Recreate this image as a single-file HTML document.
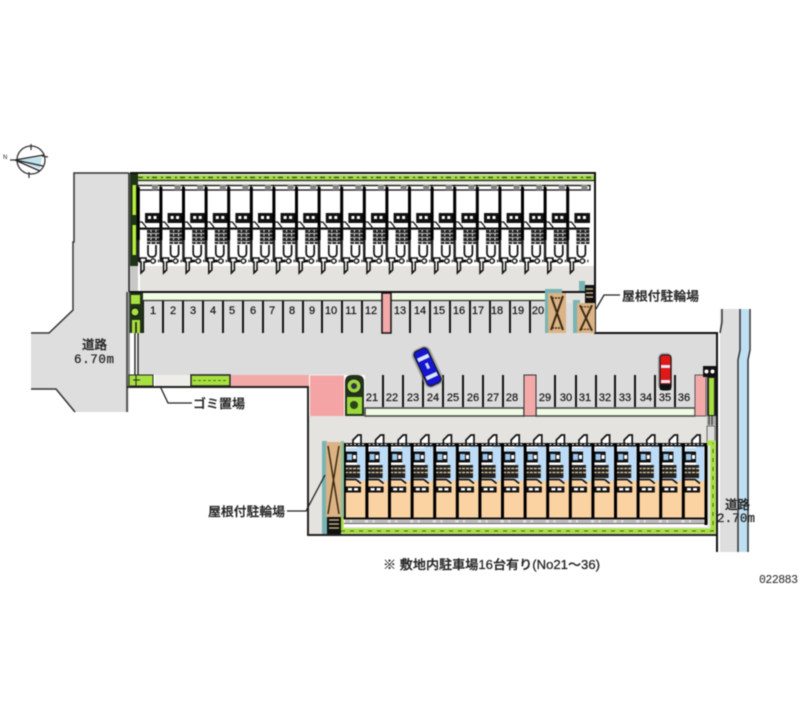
<!DOCTYPE html>
<html lang="ja"><head><meta charset="utf-8"><title>駐車場 配置図</title>
<style>
html,body{margin:0;padding:0;background:#fff}
svg{display:block;filter:blur(.4px)}
text{font-family:"Liberation Sans","Noto Sans CJK JP",sans-serif;fill:#222}
.n{font-family:"Liberation Sans","DejaVu Sans",sans-serif;font-size:11px;text-anchor:middle;fill:#111;stroke:#111;stroke-width:.2px}
.l{font-size:12.5px;font-weight:500;stroke:#222;stroke-width:.25px}
</style></head><body>
<svg width="800" height="727" viewBox="0 0 800 727" xmlns="http://www.w3.org/2000/svg">
<defs>
<g id="tu">
<rect x="0" y="190" width="22.6" height="71" fill="#fff"/>
<rect x="0" y="185.500" width="22.600" height="4.500" fill="#fff" stroke="#111" stroke-width="1.300"/>
<rect x="14" y="185" width="6" height="5" fill="#888"/>
<rect x="-1.200" y="187" width="3" height="53" fill="#000"/>
<rect x="7" y="213" width="15.600" height="10" fill="#111"/>
<rect x="10" y="216" width="3" height="3" fill="#fff"/><rect x="15.500" y="216" width="3" height="3" fill="#fff"/>
<path d="M1 222h3l4 5v2" fill="none" stroke="#111" stroke-width="1.300"/>
<rect x="0" y="227.500" width="22" height="2.200" fill="#111"/>
<rect x="9" y="230" width="13" height="14" fill="#222"/>
<path d="M9 233.500h13M9 237.500h13M9 241.500h13" stroke="#bbb" stroke-width="1.100"/>
<path d="M13 230v14M18 230v14" stroke="#eee" stroke-width="1" stroke-dasharray="2 2"/>
<path d="M10 245v8q0 4 4 4t4-4v-8" fill="#fff" stroke="#111" stroke-width="1.700"/>
<rect x="-1" y="240" width="2.500" height="22" fill="#222"/>
<path d="M2 261h19" stroke="#000" stroke-width="2.400" stroke-dasharray="4 2"/>
<circle cx="15" cy="261" r="2.200" fill="#fff" stroke="#111" stroke-width="1.300"/>
<path d="M2 258h6v4h-2v8l-3 3v-11h-1z" fill="#fff" stroke="#111" stroke-width="1.600"/>
</g>
<g id="bu">
<path d="M9 443v-3l5-5h3v8" fill="#fff" stroke="#111" stroke-width="1.700"/>
<rect x="0" y="443" width="22.600" height="37" fill="#fff"/>
<rect x="0" y="480" width="22.600" height="38" fill="#fbd3a3"/>
<rect x="13" y="446" width="8" height="35" fill="#bcdcf8"/>
<rect x="3" y="448" width="10" height="3" fill="#bcdcf8"/>
<rect x="0" y="443" width="22" height="3.500" fill="#111"/>
<path d="M2 444.500h19" stroke="#fff" stroke-dasharray="2 2"/>
<rect x="1" y="451.500" width="12" height="11" fill="#111"/>
<rect x="3" y="454" width="5" height="6" fill="#9cc8f0"/><rect x="9" y="455" width="3" height="4" fill="#fff"/>
<rect x="1" y="465" width="15" height="13" fill="#222"/>
<path d="M1 468.500h15M1 472.500h15" stroke="#f0d8a8" stroke-width="1.200" stroke-dasharray="3 1"/>
<path d="M1 479.500h11l5 4" fill="none" stroke="#111" stroke-width="1.700"/>
<rect x="1" y="486.500" width="16" height="6" fill="#111"/>
<rect x="4" y="488" width="4" height="2.500" fill="#fff"/><rect x="10" y="488" width="4" height="2.500" fill="#fff"/>
<rect x="-1.200" y="443" width="3" height="76" fill="#000"/>
<rect x="0" y="517.500" width="22.600" height="2" fill="#111"/>
<rect x="1.500" y="520" width="4.500" height="2.500" fill="#bbb"/><rect x="8" y="520" width="13" height="2.500" fill="#bbb"/>
<rect x="0" y="523" width="22.600" height="1.200" fill="#555"/>
</g>
<g id="x">
<rect x="0" y="0" width="18" height="40" fill="#dbb384"/>
<path d="M3 3L15 37M15 3L3 37" stroke="#3a2a14" stroke-width="2"/>
<path d="M4 5h10M4 35h10" stroke="#3a2a14" stroke-width="1.500" stroke-dasharray="2 1"/>
</g>
</defs>

<!-- compass -->
<g fill="none" stroke="#333" stroke-width="1.300">
<circle cx="31" cy="160" r="14"/>
<path d="M31 144v6M29 172v6M42 156l6 1M15 160l-5 0" />
</g>
<path d="M18 160L42 157L40 169Z" fill="#bfe2ee"/>
<path d="M15 160L44 155M15 160L43 166M15 160L40 171" stroke="#222" stroke-width="1.300" fill="none"/>
<text x="3" y="159" style="font-size:6px">N</text>

<!-- left road -->
<path d="M74 173H129V412H75L56 389H31V334H48L74 310Z" fill="#dedede"/>
<path d="M129 173H74V242H73V310L49 333H31M31 389H56L75 412M127 292V412" fill="none" stroke="#333" stroke-width="1.500"/>

<!-- right road -->
<rect x="720" y="309" width="20" height="243" fill="#dedede"/>
<rect x="739" y="309" width="10" height="243" fill="#bfe0f2"/>
<path d="M722 309V322L720 333M740 309V350L738 360V552M750 309V350L748 360V552" fill="none" stroke="#333" stroke-width="1.500"/>

<!-- upper-building band -->
<rect x="130" y="173" width="465" height="120" fill="#fff"/>
<rect x="138" y="181" width="455" height="5" fill="#f1efea"/>
<rect x="140" y="266" width="455" height="26" fill="#e5e3e0"/>
<rect x="129" y="266" width="9" height="26" fill="#c8c8c8"/>
<!-- top hedge -->
<rect x="138" y="175" width="456" height="5" fill="#a4dc48"/>
<path d="M138 177.500H594" stroke="#3b5a18" stroke-width="1.500" stroke-dasharray="5 4 2 3"/>
<path d="M138 180.500H594" stroke="#222" stroke-width="1.200"/>
<!-- left hedge -->
<rect x="130" y="173" width="8" height="93" fill="#1f3318"/>
<rect x="132.500" y="185" width="3.500" height="30" fill="#b6ec3c"/>
<rect x="132.500" y="225" width="3.500" height="30" fill="#b6ec3c"/>

<use href="#tu" x="138"/><use href="#tu" x="160.600"/><use href="#tu" x="183.200"/><use href="#tu" x="205.800"/>
<use href="#tu" x="228.400"/><use href="#tu" x="251"/><use href="#tu" x="273.600"/><use href="#tu" x="296.200"/>
<use href="#tu" x="318.800"/><use href="#tu" x="341.400"/><use href="#tu" x="364"/><use href="#tu" x="386.600"/>
<use href="#tu" x="409.200"/><use href="#tu" x="431.800"/><use href="#tu" x="454.400"/><use href="#tu" x="477"/>
<use href="#tu" x="499.600"/><use href="#tu" x="522.200"/><use href="#tu" x="544.800"/><use href="#tu" x="567.400"/>

<!-- main lot -->
<path d="M139 300H545V333H577V303H594V333H716V366H706V408H365V375H139Z" fill="#dcdcdc"/>
<rect x="566" y="292" width="11" height="41" fill="#dcdcdc"/>
<rect x="566" y="291" width="19" height="12" fill="#e5e3e0"/>
<!-- lower yard -->
<rect x="309" y="416" width="407" height="118" fill="#e5e3e0"/>
<!-- outer walls -->
<path d="M130 173H595V333H717V552" fill="none" stroke="#111" stroke-width="2"/>
<path d="M127 387H308V535H716" fill="none" stroke="#222" stroke-width="2"/>
<path d="M129 173V292" stroke="#222" stroke-width="1.500"/>

<!-- top stall strip -->
<path d="M129 292H585" stroke="#111" stroke-width="2"/>
<rect x="143" y="293.500" width="239" height="6.500" fill="#f0fbe4"/>
<rect x="391" y="293.500" width="154" height="6.500" fill="#f0fbe4"/>
<path d="M143 300.500H382M391 300.500H545" stroke="#333" stroke-width="1.300"/>
<g stroke="#111" stroke-width="2">
<path d="M143 301V333M163 301V333M183 301V333M203 301V333M223 301V333M243 301V333M263 301V333M283 301V333M303 301V333M322 301V333M342 301V333M362 301V333M410 301V333M430 301V333M450 301V333M470 301V333M490 301V333M510 301V333M530 301V333"/>
</g>
<rect x="382" y="293" width="9" height="40" fill="#f4a9a9" stroke="#111" stroke-width="1.500"/>
<text class="n" x="153" y="314">1</text><text class="n" x="173" y="314">2</text><text class="n" x="193" y="314">3</text><text class="n" x="213" y="314">4</text><text class="n" x="232" y="314">5</text><text class="n" x="253" y="314">6</text><text class="n" x="272" y="314">7</text><text class="n" x="292" y="314">8</text><text class="n" x="312" y="314">9</text><text class="n" x="331" y="314">10</text><text class="n" x="351" y="314">11</text><text class="n" x="371" y="314">12</text><text class="n" x="400" y="314">13</text><text class="n" x="420" y="314">14</text><text class="n" x="439" y="314">15</text><text class="n" x="459" y="314">16</text><text class="n" x="478" y="314">17</text><text class="n" x="497" y="314">18</text><text class="n" x="518" y="314">19</text><text class="n" x="538" y="314">20</text>

<!-- left planting -->
<rect x="129" y="293" width="14" height="40" fill="#1f3318"/>
<rect x="131" y="295" width="9" height="9" fill="#a8e040"/>
<circle cx="135" cy="312" r="4" fill="#a8e040" stroke="#111"/>
<rect x="132" y="320" width="8" height="13" fill="#a8e040"/>
<path d="M136 322V333" stroke="#111" stroke-width="1.500"/>
<path d="M135 333V375M138 333V375" stroke="#222" stroke-width="1.500"/>
<path d="M136.500 333V375" stroke="#fff" stroke-width="1.300"/>
<path d="M129 292V387" stroke="#777" stroke-width="1.500"/>

<!-- lower-left strip -->
<rect x="129" y="375" width="24" height="11" fill="#a8e040" stroke="#222" stroke-width="1"/>
<path d="M136 375V386M133 380H140" stroke="#222"/>
<rect x="155" y="375" width="34" height="11" fill="#efedea"/>
<rect x="191" y="375" width="39" height="11" fill="#a8e040" stroke="#222" stroke-width="1.500"/>
<path d="M193 380.500H228" stroke="#4a7a18" stroke-dasharray="3 2"/>
<rect x="231" y="375" width="78" height="11" fill="#f4a9a9"/>
<rect x="310" y="375" width="34" height="41" fill="#f4a4a4"/>
<path d="M309 375H345" stroke="#eee"/>
<path d="M345 416V382Q345 375 352 375H357Q364 375 364 382V416Z" fill="#223318"/>
<circle cx="354" cy="386" r="7" fill="#9ad83c" stroke="#223"/>
<circle cx="354" cy="386" r="3" fill="#334"/>
<rect x="347" y="397" width="15" height="17" fill="#9ad83c"/>
<circle cx="354" cy="405" r="4" fill="#2b4418"/>

<!-- bottom stalls -->
<rect x="365" y="408" width="159" height="8" fill="#f0fbe4" stroke="#444" stroke-width="1.500"/>
<rect x="536" y="408" width="159" height="8" fill="#f0fbe4" stroke="#444" stroke-width="1.500"/>
<g stroke="#111" stroke-width="2">
<path d="M383 375V407M403 375V407M423 375V407M443 375V407M463 375V407M483 375V407M503 375V407M555 375V407M576 375V407M596 375V407M615 375V407M635 375V407M655 375V407M675 375V407"/>
</g>
<rect x="524" y="375" width="12" height="41" fill="#f4a9a9" stroke="#333"/>
<rect x="695" y="375" width="11" height="41" fill="#f4a9a9" stroke="#555"/>
<text class="n" x="372" y="401">21</text><text class="n" x="392" y="401">22</text><text class="n" x="413" y="401">23</text><text class="n" x="433" y="401">24</text><text class="n" x="453" y="401">25</text><text class="n" x="473" y="401">26</text><text class="n" x="493" y="401">27</text><text class="n" x="512" y="401">28</text><text class="n" x="545" y="401">29</text><text class="n" x="566" y="401">30</text><text class="n" x="585" y="401">31</text><text class="n" x="605" y="401">32</text><text class="n" x="625" y="401">33</text><text class="n" x="646" y="401">34</text><text class="n" x="665" y="401">35</text><text class="n" x="684" y="401">36</text>
<!-- right planting -->
<rect x="703" y="366" width="13" height="11" fill="#111"/>
<circle cx="706.500" cy="371.500" r="2" fill="#fff"/><circle cx="712.500" cy="371.500" r="2" fill="#fff"/>
<rect x="707" y="377" width="9" height="39" fill="#222"/>
<rect x="709" y="378" width="5" height="37" fill="#a8e040"/>
<rect x="707" y="416" width="9" height="9" fill="#aaa"/>
<path d="M709 416V425M712 416V425" stroke="#333"/>
<rect x="707" y="426" width="8" height="17" fill="#ddd" stroke="#666"/>

<!-- blue car -->
<g transform="translate(427.500 367) rotate(-25)">
<rect x="-10" y="-21" width="20" height="42" rx="7" fill="#888" opacity=".65"/>
<rect x="-7.500" y="-19" width="15" height="38" rx="4" fill="#1616d0" stroke="#111" stroke-width="1"/>
<rect x="-6" y="-12" width="12" height="4" fill="#dbe8f8"/><rect x="-6" y="8" width="12" height="4" fill="#dbe8f8"/>
<rect x="-1" y="-4" width="3" height="6" fill="#cde"/>
</g>
<!-- red car -->
<rect x="658" y="353" width="14" height="37" rx="5" fill="#777" opacity=".65"/>
<rect x="660" y="355" width="11" height="35" rx="3" fill="#e01818" stroke="#111"/>
<rect x="661" y="365" width="9" height="3" fill="#e8e8f4"/><rect x="661" y="380" width="9" height="3" fill="#e8e8f4"/>
<rect x="660" y="384" width="11" height="6" fill="#111"/>

<!-- bike shelters top -->
<path d="M545 296V289H562V293H548V333H545Z" fill="#78b4b4"/>
<path d="M573 333V300H580V303H577V333Z" fill="#78b4b4"/>
<rect x="579" y="281" width="6" height="10" fill="#78b4b4"/>
<use href="#x" x="548" y="293"/>
<g transform="translate(577 303) scale(1 .75)"><use href="#x"/></g>
<rect x="585" y="285" width="9" height="18" fill="#111"/>
<path d="M586 289H593M586 293H593M586 297H593" stroke="#d8c090" stroke-width="1.300"/>

<!-- lower building -->
<use href="#bu" x="344"/><use href="#bu" x="366.600"/><use href="#bu" x="389.200"/><use href="#bu" x="411.800"/>
<use href="#bu" x="434.400"/><use href="#bu" x="457"/><use href="#bu" x="479.600"/><use href="#bu" x="502.200"/>
<use href="#bu" x="524.800"/><use href="#bu" x="547.400"/><use href="#bu" x="570"/><use href="#bu" x="592.600"/>
<use href="#bu" x="615.200"/><use href="#bu" x="637.800"/><use href="#bu" x="660.400"/><use href="#bu" x="683"/>
<rect x="344" y="524" width="364" height="3" fill="#fff"/>
<rect x="704.500" y="443" width="3" height="82" fill="#000"/>
<!-- lower hedge -->
<path d="M341 517V531H713V443H707" fill="none" stroke="#a8e040" stroke-width="5"/>
<path d="M341 531H713V443" fill="none" stroke="#3f6a14" stroke-width="1" stroke-dasharray="4 5"/>
<!-- lower shelter -->
<rect x="322" y="441" width="5" height="93" fill="#78b4b4"/>
<rect x="341" y="441" width="3" height="76" fill="#8cc09c"/>
<rect x="326" y="442" width="15" height="75" fill="#dbb384"/>
<path d="M328 446L339 514M339 446L328 514" stroke="#3a2a14" stroke-width="1.500"/>
<rect x="327" y="517" width="14" height="17" fill="#111"/>
<path d="M329 520H339M329 524H339M329 528H339" stroke="#d8c090" stroke-width="1.300"/>

<!-- leaders -->
<path d="M620 295H604L596 309M192 403H168L160 386M287 511H306L325 475" fill="none" stroke="#222" stroke-width="1.300"/>

<!-- labels -->
<text class="l" x="622" y="300.500" textLength="77" lengthAdjust="spacingAndGlyphs">屋根付駐輪場</text>
<text class="l" x="193" y="408" textLength="52" lengthAdjust="spacingAndGlyphs">ゴミ置場</text>
<text class="l" x="208" y="516" textLength="77" lengthAdjust="spacingAndGlyphs">屋根付駐輪場</text>
<text class="l" x="82" y="349" textLength="25" lengthAdjust="spacingAndGlyphs">道路</text>
<text class="l" x="74" y="363" textLength="40" lengthAdjust="spacing" style="font-family:'Liberation Mono',monospace">6.70m</text>
<text class="l" x="725" y="509" textLength="25" lengthAdjust="spacingAndGlyphs">道路</text>
<text class="l" x="717" y="522" textLength="38" lengthAdjust="spacing" style="font-family:'Liberation Mono',monospace">2.70m</text>
<text class="l" x="383" y="569" textLength="217" lengthAdjust="spacingAndGlyphs">※ 敷地内駐車場16台有り(No21～36)</text>
<text x="759" y="583" textLength="39" lengthAdjust="spacing" style="font-family:'Liberation Mono',monospace;font-size:11.500px">022883</text>
</svg>
</body></html>
